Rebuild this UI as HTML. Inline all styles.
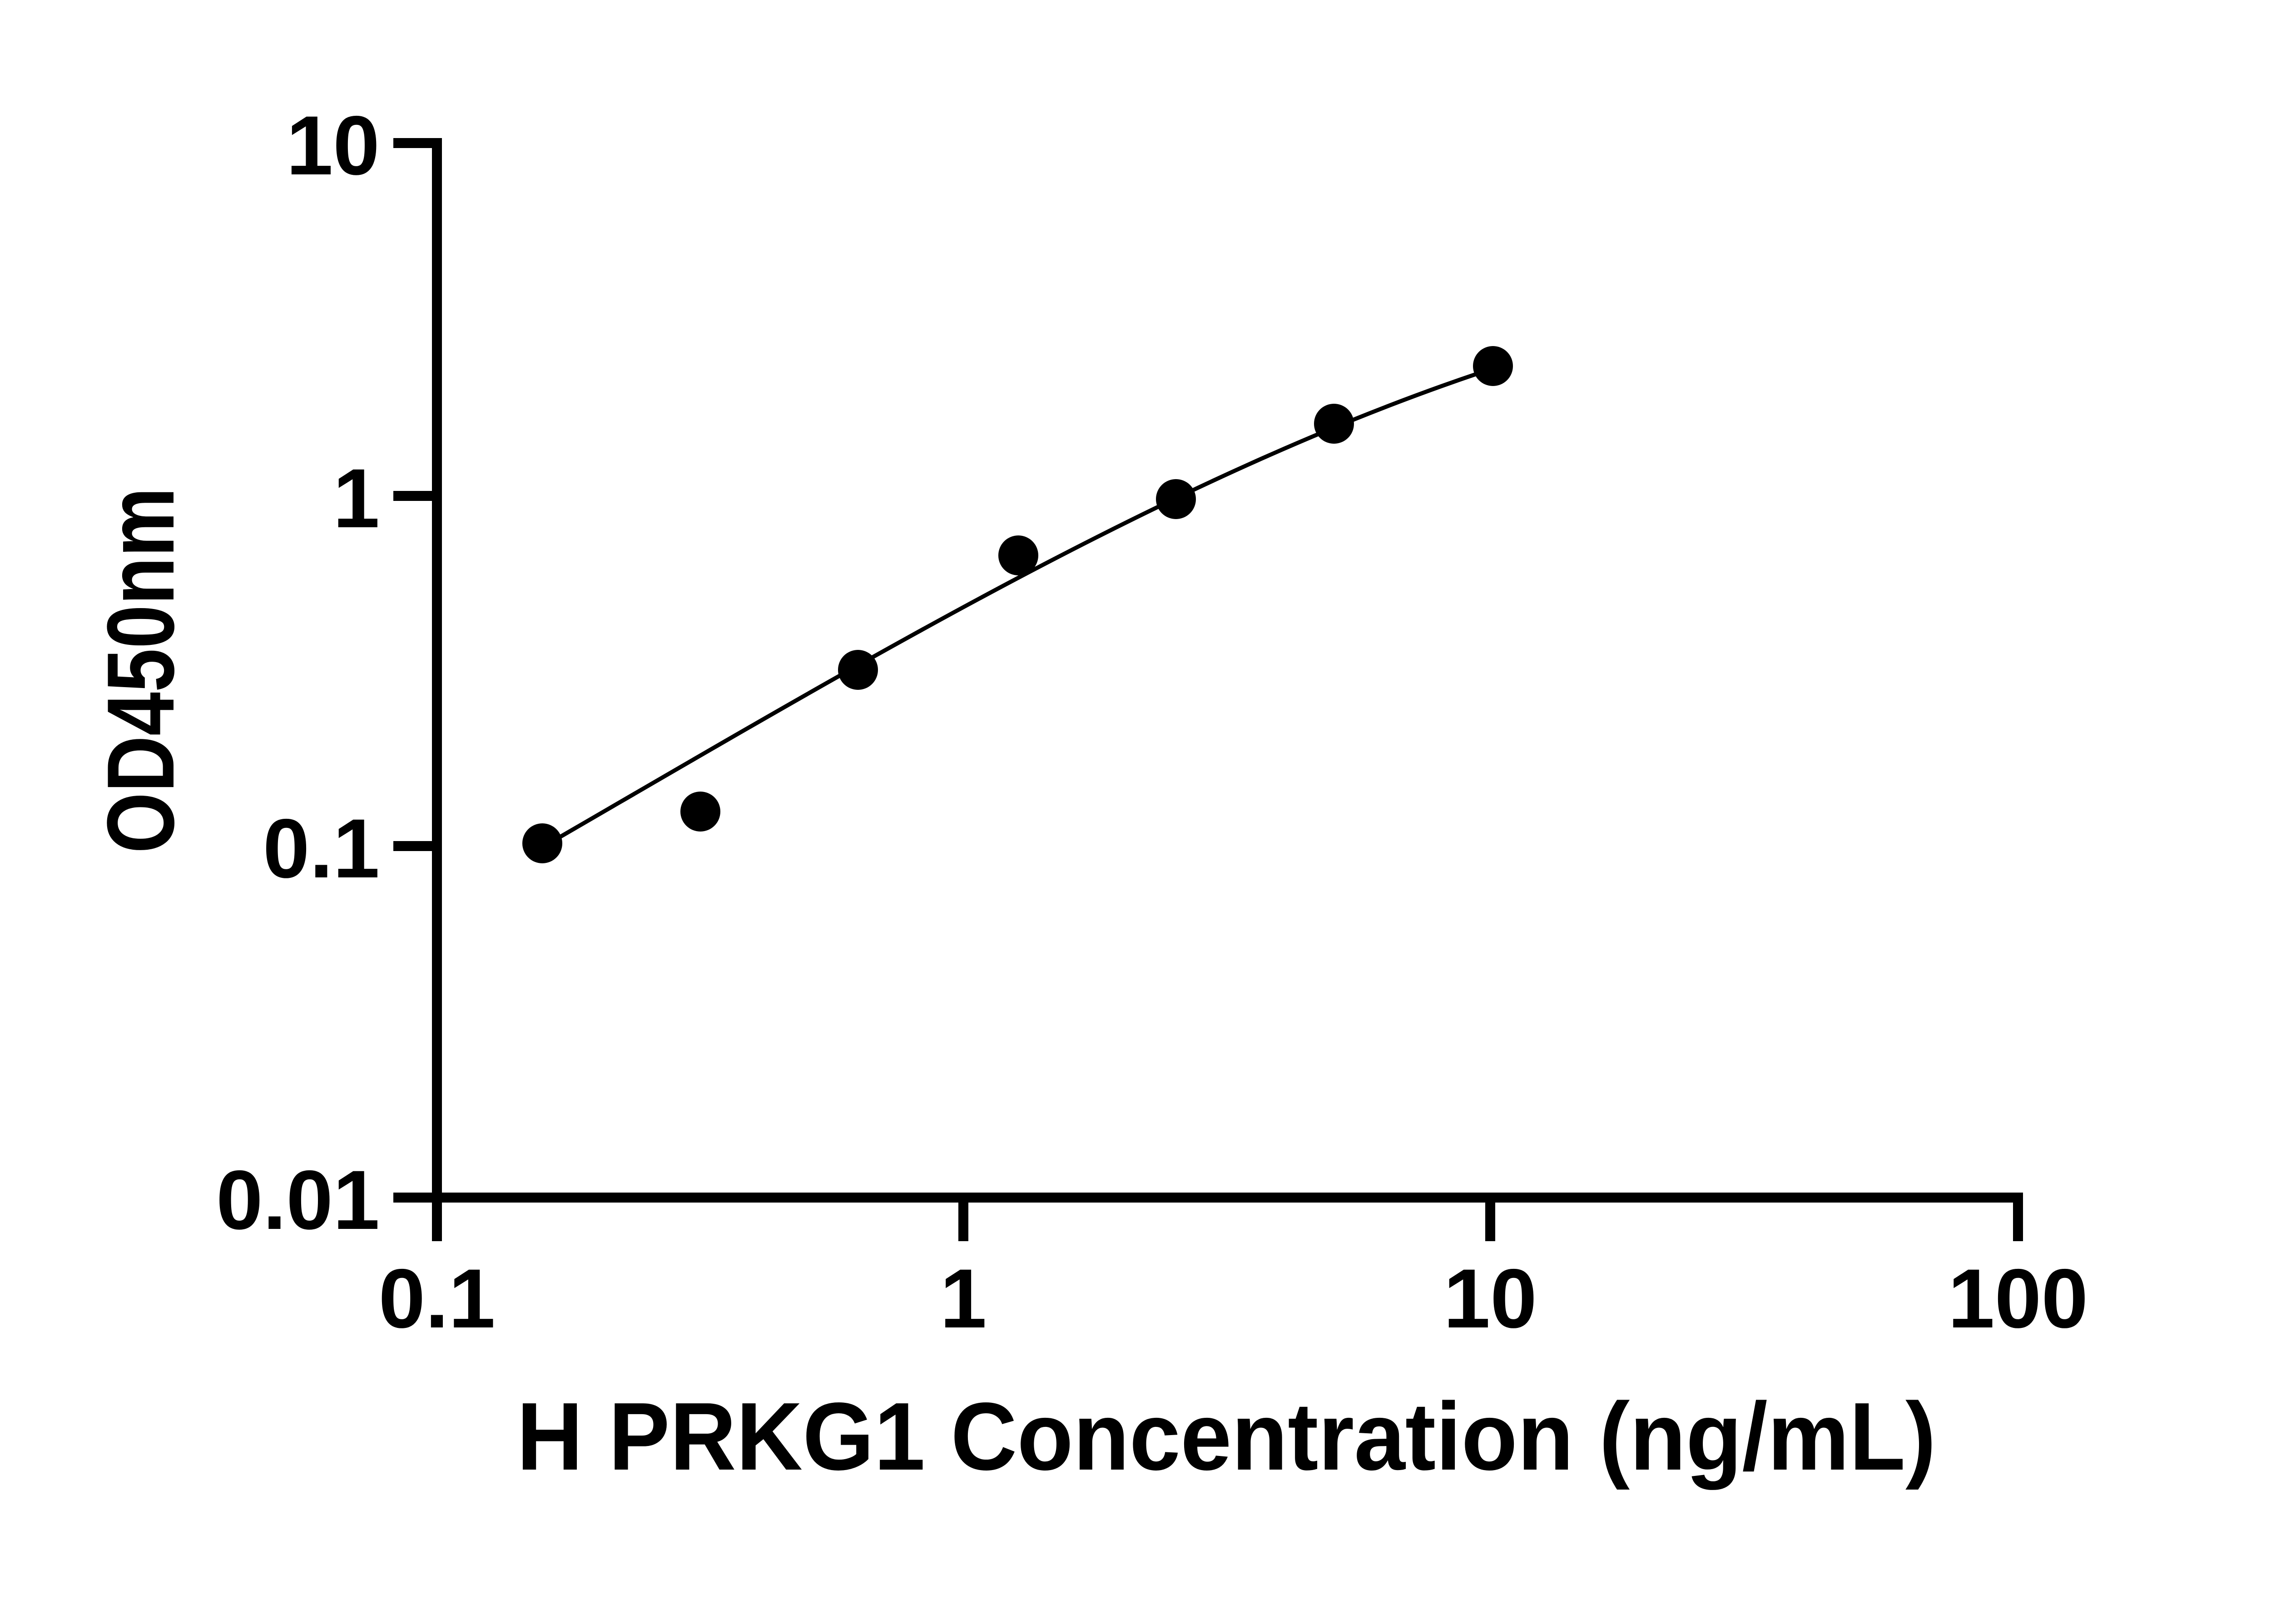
<!DOCTYPE html>
<html><head><meta charset="utf-8"><style>html,body{margin:0;padding:0;background:#fff}svg{display:block}</style></head>
<body>
<svg width="5170" height="3576" viewBox="0 0 5170 3576" xmlns="http://www.w3.org/2000/svg" font-family="Liberation Sans, Arial, sans-serif" font-weight="bold">
<g stroke="#000" stroke-width="22" fill="none" stroke-linecap="butt">
<line x1="962" y1="304" x2="962" y2="2648"/>
<line x1="951" y1="2637" x2="4443" y2="2637"/>
<line x1="866" y1="315" x2="973" y2="315"/>
<line x1="866" y1="1092" x2="973" y2="1092"/>
<line x1="866" y1="1863" x2="973" y2="1863"/>
<line x1="866" y1="2637" x2="973" y2="2637"/>
<line x1="962" y1="2626" x2="962" y2="2733"/>
<line x1="2121" y1="2626" x2="2121" y2="2733"/>
<line x1="3281" y1="2626" x2="3281" y2="2733"/>
<line x1="4443" y1="2626" x2="4443" y2="2733"/>
</g>
<g font-size="185" text-anchor="end">
<text x="836" y="384">10</text>
<text x="836" y="1161">1</text>
<text x="836" y="1932">0.1</text>
<text x="836" y="2706">0.01</text>
</g>
<g font-size="185" text-anchor="middle">
<text x="962" y="2923">0.1</text>
<text x="2121" y="2923">1</text>
<text x="3281" y="2923">10</text>
<text x="4443" y="2923">100</text>
</g>
<text x="2700" y="3236" font-size="212" text-anchor="middle" textLength="3125" lengthAdjust="spacingAndGlyphs">H PRKG1 Concentration (ng/mL)</text>
<text transform="translate(382,1476) rotate(-90)" font-size="210" text-anchor="middle" textLength="806" lengthAdjust="spacingAndGlyphs">OD450nm</text>
<path d="M1226,1847 C1902,1455 2579,1050 3255,822" stroke="#000" stroke-width="9" fill="none"/>
<g fill="#000">
<circle cx="1194" cy="1857" r="44"/>
<circle cx="1542" cy="1787" r="44"/>
<circle cx="1889" cy="1475" r="44"/>
<circle cx="2242" cy="1223" r="44"/>
<circle cx="2589" cy="1099" r="44"/>
<circle cx="2937" cy="933" r="44"/>
<circle cx="3287" cy="806" r="44"/>
</g>
</svg>
</body></html>
